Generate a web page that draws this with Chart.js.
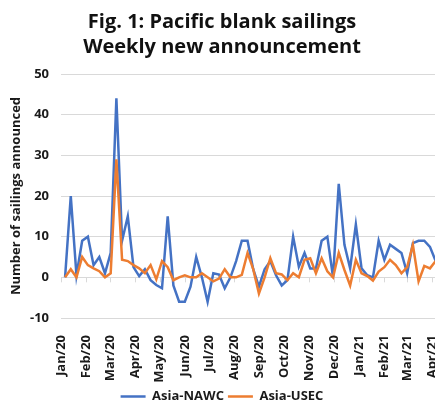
<!DOCTYPE html>
<html>
<head>
<meta charset="utf-8">
<script src="https://cdn.jsdelivr.net/npm/chart.js@4.4.1/dist/chart.umd.min.js"></script>
<style>
  html, body { margin: 0; padding: 0; overflow: hidden; background: #fff; }
  #wrap { width: 444px; height: 404px; }
</style>
</head>
<body>
<div id="wrap"><canvas id="myChart" width="444" height="404"></canvas></div>
<script>
// weekly announcements, Jan 2020 - Apr 2021
const weeks = [
  '2020-01-06', '2020-01-13', '2020-01-20', '2020-01-27', '2020-02-03', '2020-02-10', '2020-02-17', '2020-02-24',
  '2020-03-02', '2020-03-09', '2020-03-16', '2020-03-23', '2020-03-30', '2020-04-06', '2020-04-13', '2020-04-20',
  '2020-04-27', '2020-05-04', '2020-05-11', '2020-05-18', '2020-05-25', '2020-06-01', '2020-06-08', '2020-06-15',
  '2020-06-22', '2020-06-29', '2020-07-06', '2020-07-13', '2020-07-20', '2020-07-27', '2020-08-03', '2020-08-10',
  '2020-08-17', '2020-08-24', '2020-08-31', '2020-09-07', '2020-09-14', '2020-09-21', '2020-09-28', '2020-10-05',
  '2020-10-12', '2020-10-19', '2020-10-26', '2020-11-02', '2020-11-09', '2020-11-16', '2020-11-23', '2020-11-30',
  '2020-12-07', '2020-12-14', '2020-12-21', '2020-12-28', '2021-01-04', '2021-01-11', '2021-01-18', '2021-01-25',
  '2021-02-01', '2021-02-08', '2021-02-15', '2021-02-22', '2021-03-01', '2021-03-08', '2021-03-15', '2021-03-22',
  '2021-03-29', '2021-04-05'
];

const nawc = [
  0, 20, 0.5, 9, 10, 3, 5, 1, 6, 44,
  9, 15, 2.5, 0.3, 2, -0.7, -1.9, -2.7, 15, -2,
  -6, -6, -2.3, 5, 0, -6, 1, 0.7, -2.7, 0,
  4, 9, 9, 2, -2.3, 2, 4, 0.5, -2, -0.7,
  10, 2.6, 6, 2.2, 2.2, 9, 10, 0, 23, 8,
  2.2, 13, 2.2, 0.5, 0, 9, 4.3, 8, 7, 6,
  1, 8.4, 9, 9, 7.5, 4
];

const usec = [
  0, 2, 0, 5, 3, 2.2, 1.5, 0, 1, 29,
  4.3, 4, 3, 2.2, 1, 3, -0.5, 4, 2.5, -0.7,
  0, 0.5, 0, 0, 1, 0, -1, -0.3, 2, 0,
  0, 0.6, 6, 2, -4, 0, 4.7, 1, 0.7, -0.7,
  1, 0, 4.3, 4.7, 1, 4.7, 1.5, 0, 6, 1.8,
  -2, 4.3, 1, 0.3, -0.8, 1.4, 2.5, 4.3, 3, 1,
  2.5, 8, -1, 2.8, 2.2, 4
];

const monthDates = [
  '2020-01-01', '2020-02-01', '2020-03-01', '2020-04-01', '2020-05-01', '2020-06-01', '2020-07-01', '2020-08-01',
  '2020-09-01', '2020-10-01', '2020-11-01', '2020-12-01', '2021-01-01', '2021-02-01', '2021-03-01', '2021-04-01'
];
const monthLabels = [
  'Jan/20', 'Feb/20', 'Mar/20', 'Apr/20', 'May/20', 'Jun/20', 'Jul/20', 'Aug/20',
  'Sep/20', 'Oct/20', 'Nov/20', 'Dec/20', 'Jan/21', 'Feb/21', 'Mar/21', 'Apr/21'
];
const yTicks = [-10, 0, 10, 20, 30, 40, 50];

const day0 = Date.parse('2020-01-01');
function dayNum(s) {
  return (Date.parse(s) - day0) / 86400000;
}

const textColor = '#1a1a1a';
const font = 'Open Sans';

// small tick marks hanging under the zero line, like the excel axis
const zeroTicks = {
  id: 'zeroTicks',
  beforeDatasetsDraw(chart) {
    const xs = chart.scales.x, ys = chart.scales.y;
    const ctx = chart.ctx;
    const y0 = ys.getPixelForValue(0);
    ctx.save();
    ctx.strokeStyle = '#d9d9d9';
    ctx.lineWidth = 1;
    ctx.beginPath();
    xs.ticks.forEach(t => {
      const px = Math.round(xs.getPixelForValue(t.value)) + 0.5;
      ctx.moveTo(px, y0);
      ctx.lineTo(px, y0 + 5);
    });
    ctx.stroke();
    ctx.restore();
  }
};

var ctx = document.getElementById('myChart').getContext('2d');

var mychart = new Chart(ctx, {
  type: 'line',
  data: {
    datasets: [{
      label: 'Asia-NAWC',
      data: weeks.map((w, i) => ({ x: dayNum(w), y: nawc[i] })),
      borderColor: '#4472C4',
      backgroundColor: '#4472C4',
      borderWidth: 2.5,
      pointRadius: 0,
      tension: 0,
      order: 2
    }, {
      label: 'Asia-USEC',
      data: weeks.map((w, i) => ({ x: dayNum(w), y: usec[i] })),
      borderColor: '#ED7D31',
      backgroundColor: '#ED7D31',
      borderWidth: 2.5,
      pointRadius: 0,
      tension: 0,
      order: 1
    }]
  },
  options: {
    responsive: false,
    animation: false,
    layout: {
      padding: { left: 1, right: 1, top: 0, bottom: 0 }
    },
    plugins: {
      title: {
        display: true,
        text: ['Fig. 1: Pacific blank sailings', 'Weekly new announcement'],
        color: '#111',
        font: { family: font, size: 20, weight: 'bold', lineHeight: 1.25 },
        padding: { top: 10, bottom: 14 }
      },
      legend: {
        position: 'bottom',
        maxHeight: 18,
        labels: {
          usePointStyle: true,
          pointStyle: 'line',
          pointStyleWidth: 25,
          color: textColor,
          font: { family: font, size: 13, weight: 'bold' },
          padding: 4,
          sort: (a, b) => a.datasetIndex - b.datasetIndex
        }
      },
      tooltip: { enabled: false }
    },
    scales: {
      x: {
        type: 'linear',
        min: 0,
        max: 469,
        grid: { display: false },
        border: { display: false },
        afterBuildTicks: s => { s.ticks = monthDates.map(d => ({ value: dayNum(d) })); },
        afterFit: s => { s.paddingLeft = 0; s.paddingRight = 0; s.height = 68; },
        ticks: {
          minRotation: 90,
          maxRotation: 90,
          autoSkip: false,
          padding: 9,
          color: textColor,
          font: { family: font, size: 13, weight: 'bold' },
          callback: (v, i) => monthLabels[i]
        }
      },
      y: {
        min: -10,
        max: 50,
        afterBuildTicks: s => { s.ticks = yTicks.map(v => ({ value: v })); },
        afterFit: s => { s.width = 60; },
        grid: { color: '#d9d9d9', drawTicks: false },
        border: { display: false },
        ticks: {
          padding: 12,
          color: textColor,
          font: { family: font, size: 13, weight: 'bold' }
        },
        title: {
          display: true,
          text: 'Number of sailings announced',
          color: textColor,
          font: { family: font, size: 13, weight: 'bold' },
          padding: { top: 7, bottom: 0 }
        }
      }
    }
  },
  plugins: [zeroTicks]
});
</script>
</body>
</html>
